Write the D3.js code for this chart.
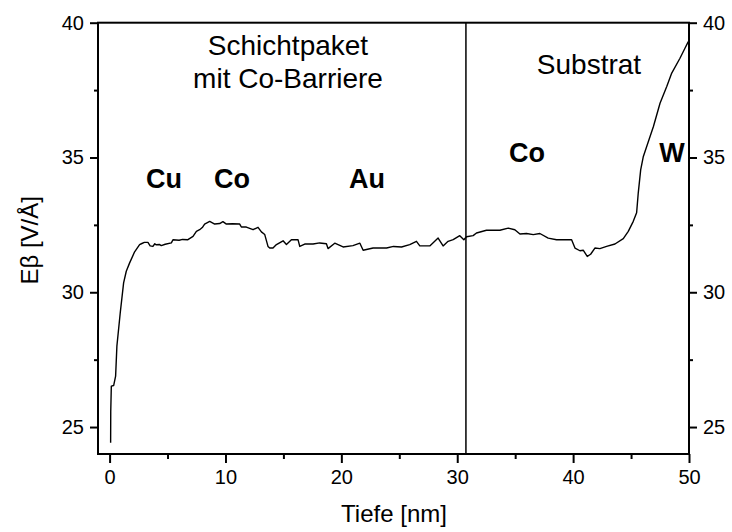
<!DOCTYPE html>
<html>
<head>
<meta charset="utf-8">
<script src="https://cdn.jsdelivr.net/npm/d3@7"></script>
<style>
  html, body { margin: 0; padding: 0; background: #fff; }
  svg { display: block; font-family: "Liberation Sans", Arial, Helvetica, sans-serif; }
</style>
</head>
<body>
<svg id="chart" width="732" height="532"></svg>
<script>
// ---- data ----
const depth = [0.09,0.10,0.15,0.35,0.52,0.63,0.92,1.21,1.44,1.73,2.16,2.59,2.74,3.0,3.31,3.5,3.74,3.9,4.03,4.32,4.46,4.8,5.33,5.47,6.0,6.3,6.76,7.2,7.49,7.77,8.0,8.2,8.64,9.07,9.5,9.78,10.08,10.6,11.23,11.37,11.8,12.38,12.81,13.1,13.39,13.67,13.82,14.1,14.4,14.97,15.26,15.69,16.26,16.41,16.84,17.56,18.13,18.71,18.85,19.43,20.15,21.0,21.6,21.88,22.74,23.9,24.5,25.19,25.9,26.48,26.77,27.63,28.35,28.78,29.21,29.65,30.22,30.57,30.8,31.37,31.66,32.52,33.68,34.4,34.97,35.41,35.98,36.56,37.13,37.85,38.57,39.87,40.16,40.59,40.87,41.22,41.51,41.88,42.31,42.89,43.61,44.33,44.76,45.19,45.48,45.62,45.83,46.06,46.35,46.93,47.5,48.08,48.51,49.22,49.65,49.94];
const field = [24.42,25.59,26.52,26.54,26.89,28.0,29.24,30.35,30.78,31.09,31.50,31.77,31.80,31.85,31.85,31.72,31.70,31.80,31.76,31.77,31.73,31.78,31.83,31.95,31.93,31.96,31.95,32.07,32.26,32.32,32.40,32.53,32.63,32.53,32.55,32.62,32.53,32.54,32.53,32.42,32.42,32.32,32.41,32.24,32.14,31.70,31.64,31.64,31.77,31.91,31.77,31.95,31.95,31.70,31.79,31.79,31.83,31.80,31.62,31.82,31.68,31.73,31.82,31.56,31.64,31.64,31.70,31.68,31.77,31.89,31.72,31.72,32.01,31.72,31.89,31.95,32.10,31.95,32.06,32.10,32.20,32.30,32.30,32.38,32.32,32.16,32.18,32.14,32.18,32.01,31.95,31.95,31.64,31.54,31.56,31.33,31.41,31.64,31.62,31.70,31.79,31.99,32.26,32.63,32.95,33.68,34.54,35.04,35.41,36.15,37.01,37.63,38.13,38.68,39.05,39.30];
const xTicks = [0,10,20,30,40,50];
const xMinorTicks = [5,15,25,35,45];
const yTicks = [25,30,35,40];
const yMinorTicks = [27.5,32.5,37.5];
const dividerDepth = [30.75];
const regionLabels = ["Schichtpaket", "mit Co-Barriere", "Substrat"];
const elementLabels = ["Cu", "Co", "Au", "Co", "W"];
const xTitle = "Tiefe [nm]";
const yTitle = "Eβ [V/Å]";

// ---- layout ----
const svg = d3.select("#chart");
const L = 98, R = 689, T = 22.7, B = 454;
const x = d3.scaleLinear().domain([-1, 50]).range([L, R]);
const y = d3.scaleLinear().domain([24, 40]).range([B, T]);

function styleAxis(g) {
  g.select(".domain").remove();
  g.selectAll(".tick line").attr("stroke", "#000").attr("stroke-width", 2);
  g.selectAll(".tick text").attr("fill", "#000").style("font-size", "20px")
   .style("font-family", '"Liberation Sans", Arial, sans-serif');
}

// bottom axis
svg.append("g").attr("transform", `translate(0,${B})`)
  .call(d3.axisBottom(x).tickValues(xTicks).tickSize(9).tickPadding(7).tickFormat(d3.format("d")))
  .call(styleAxis);
svg.append("g").attr("transform", `translate(0,${B})`)
  .call(d3.axisBottom(x).tickValues(xMinorTicks).tickSize(5).tickFormat(""))
  .call(styleAxis);

// left axis
svg.append("g").attr("transform", `translate(${L},0)`)
  .call(d3.axisLeft(y).tickValues(yTicks).tickSize(8).tickPadding(6).tickFormat(d3.format("d")))
  .call(styleAxis);
svg.append("g").attr("transform", `translate(${L},0)`)
  .call(d3.axisLeft(y).tickValues(yMinorTicks).tickSize(4).tickFormat(""))
  .call(styleAxis);

// right axis
svg.append("g").attr("transform", `translate(${R},0)`)
  .call(d3.axisRight(y).tickValues(yTicks).tickSize(8).tickPadding(6).tickFormat(d3.format("d")))
  .call(styleAxis);
svg.append("g").attr("transform", `translate(${R},0)`)
  .call(d3.axisRight(y).tickValues(yMinorTicks).tickSize(4).tickFormat(""))
  .call(styleAxis);

// frame
svg.append("rect").attr("x", L).attr("y", T).attr("width", R - L).attr("height", B - T)
  .attr("fill", "none").attr("stroke", "#000").attr("stroke-width", 2);

// divider
svg.selectAll(".divider").data(dividerDepth).enter().append("line")
  .attr("x1", d => x(d)).attr("x2", d => x(d)).attr("y1", T).attr("y2", B)
  .attr("stroke", "#000").attr("stroke-width", 1.5);

// curve
const pts = depth.map((d, i) => [d, field[i]]);
svg.append("path").datum(pts)
  .attr("fill", "none").attr("stroke", "#000").attr("stroke-width", 1.4)
  .attr("stroke-linejoin", "round")
  .attr("d", d3.line().x(d => x(d[0])).y(d => y(d[1])));

// region labels
const regionPos = [[288, 55], [288, 88], [589, 74]];
svg.selectAll(".region").data(regionLabels).enter().append("text")
  .attr("x", (d, i) => regionPos[i][0]).attr("y", (d, i) => regionPos[i][1])
  .attr("text-anchor", "middle").style("font-size", "28px").text(d => d);

// element labels
const elemPos = [[164, 188], [232, 188], [367, 188], [527, 162], [672, 162]];
svg.selectAll(".elem").data(elementLabels).enter().append("text")
  .attr("x", (d, i) => elemPos[i][0]).attr("y", (d, i) => elemPos[i][1])
  .attr("text-anchor", "middle").style("font-size", "27px").style("font-weight", "bold")
  .text(d => d);

// axis titles
svg.append("text").attr("x", (L + R) / 2 + 0.5).attr("y", 522)
  .attr("text-anchor", "middle").style("font-size", "24px").text(xTitle);
svg.append("text").attr("transform", `translate(38,${(T + B) / 2 + 2}) rotate(-90)`)
  .attr("text-anchor", "middle").style("font-size", "24px").text(yTitle);
</script>
</body>
</html>
